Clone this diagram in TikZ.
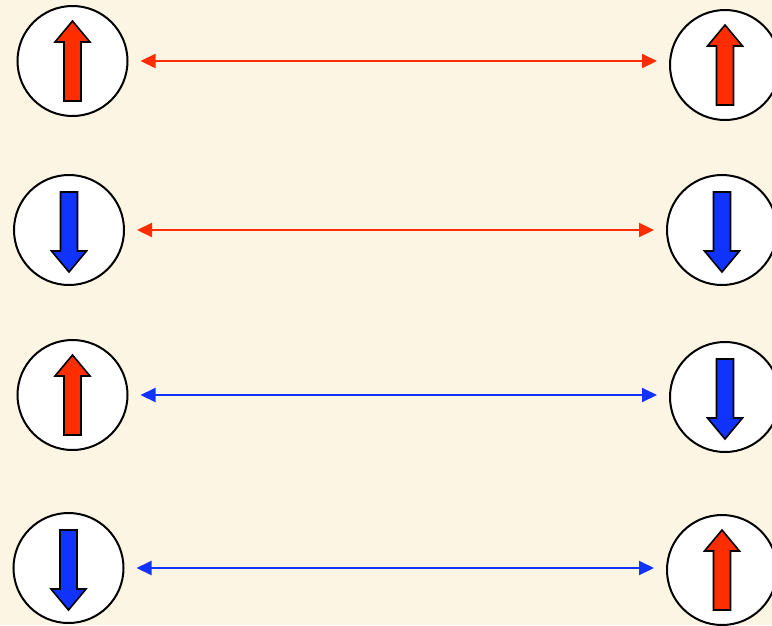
\documentclass[tikz,border=0pt]{standalone}
\usetikzlibrary{arrows.meta}
\definecolor{bgcream}{RGB}{253,245,227}
\definecolor{spinred}{RGB}{255,45,0}
\definecolor{spinblue}{RGB}{17,51,255}
\tikzset{
  spincircle/.style={circle,draw=black,line width=2pt,fill=white,minimum size=110pt,inner sep=0pt},
  spinshape/.style={draw=black,line width=1.6pt,line join=miter},
  spinup/.pic={\draw[spinshape,fill=spinred] (0,-40) -- (17.5,-19) -- (8.5,-19) -- (8.5,40) -- (-8.5,40) -- (-8.5,-19) -- (-17.5,-19) -- cycle;},
  spindown/.pic={\draw[spinshape,fill=spinblue] (0,42) -- (17.5,21) -- (8.5,21) -- (8.5,-38) -- (-8.5,-38) -- (-8.5,21) -- (-17.5,21) -- cycle;},
  link/.style={line width=2pt,{Triangle[length=15pt,width=14pt]}-{Triangle[length=15pt,width=14pt]},shorten <=12pt,shorten >=12pt}
}
\begin{document}
\begin{tikzpicture}[x=1pt,y=-1pt]
\clip (0,0) rectangle (772,625);
\fill[bgcream] (0,0) rectangle (772,625);
\useasboundingbox (0,0) rectangle (772,625);
\node[spincircle] (L1) at (72.5,61) {};
\node[spincircle] (L2) at (69,230) {};
\node[spincircle] (L3) at (72.5,395) {};
\node[spincircle] (L4) at (68.5,568) {};
\node[spincircle] (R1) at (725,65) {};
\node[spincircle] (R2) at (722,230) {};
\node[spincircle] (R3) at (725,397) {};
\node[spincircle] (R4) at (722,570) {};
\pic at (L1) {spinup};
\pic at (L2) {spindown};
\pic at (L3) {spinup};
\pic at (L4) {spindown};
\pic at (R1) {spinup};
\pic at (R2) {spindown};
\pic at (R3) {spindown};
\pic at (R4) {spinup};
\draw[link,spinred] (L1.east) -- (L1.east -| R1.west);
\draw[link,spinred] (L2.east) -- (L2.east -| R2.west);
\draw[link,spinblue] (L3.east) -- (L3.east -| R3.west);
\draw[link,spinblue] (L4.east) -- (L4.east -| R4.west);
\end{tikzpicture}
\end{document}
